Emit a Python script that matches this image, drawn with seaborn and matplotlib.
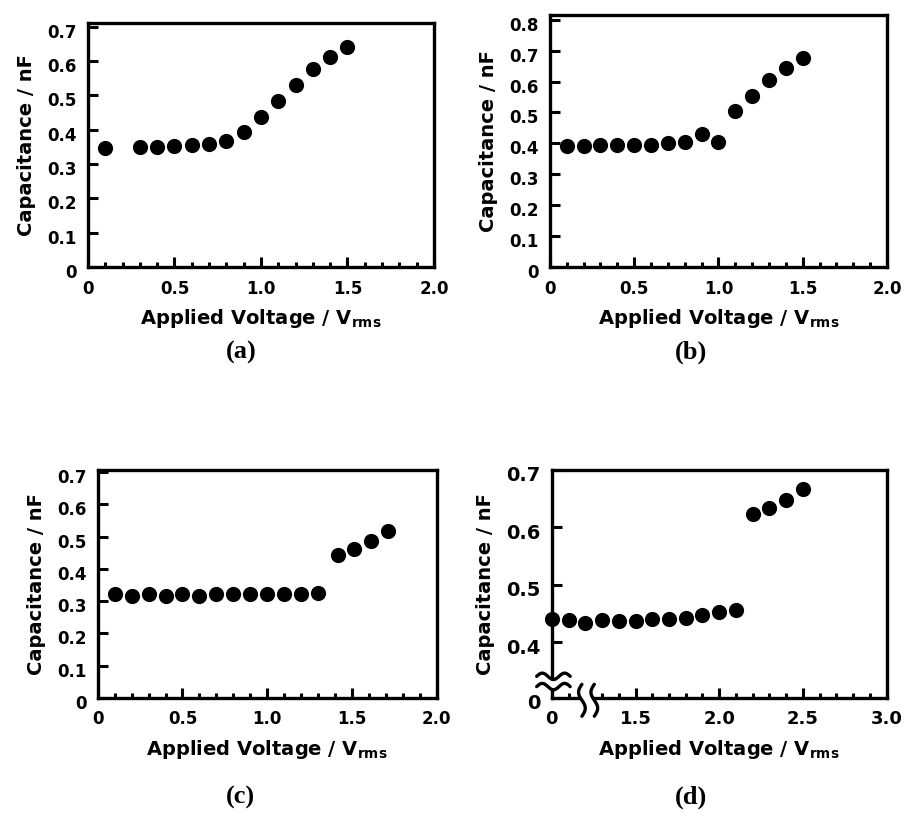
import numpy as np
import seaborn as sns
import pandas as pd
import matplotlib.pyplot as plt
import matplotlib.transforms as mtransforms
from matplotlib.ticker import MultipleLocator

sns.set_style('ticks')
plt.rcParams['font.family'] = ['DejaVu Sans']
plt.rcParams['font.weight'] = 'bold'
plt.rcParams['mathtext.fontset'] = 'custom'
plt.rcParams['mathtext.rm'] = 'DejaVu Sans:bold'
plt.rcParams['mathtext.bf'] = 'DejaVu Sans:bold'
plt.rcParams['text.color'] = 'black'
plt.rcParams['axes.labelcolor'] = 'black'
plt.rcParams['xtick.color'] = 'black'
plt.rcParams['ytick.color'] = 'black'

# (a)
volt_a = [0.1, 0.3, 0.4, 0.5, 0.6, 0.7, 0.8, 0.9, 1.0, 1.1, 1.2, 1.3, 1.4, 1.5]
cap_a = [0.346, 0.349, 0.350, 0.352, 0.356, 0.358, 0.368, 0.392, 0.436, 0.484, 0.530, 0.576, 0.610, 0.641]
# (b)
volt_b = [0.1, 0.2, 0.3, 0.4, 0.5, 0.6, 0.7, 0.8, 0.9, 1.0, 1.1, 1.2, 1.3, 1.4, 1.5]
cap_b = [0.392, 0.390, 0.396, 0.396, 0.396, 0.396, 0.400, 0.405, 0.430, 0.403, 0.505, 0.552, 0.605, 0.645, 0.677]
# (c)
volt_c = [0.1, 0.2, 0.3, 0.4, 0.5, 0.6, 0.7, 0.8, 0.9, 1.0, 1.1, 1.2, 1.3, 1.42, 1.51, 1.61, 1.71]
cap_c = [0.321, 0.317, 0.321, 0.317, 0.321, 0.317, 0.321, 0.321, 0.321, 0.321, 0.321, 0.321, 0.325,
         0.442, 0.461, 0.487, 0.518]
# (d) broken axes: x position 1.0 is labelled "0", y position 0.303 is labelled "0"
volt_d = [1.0, 1.1, 1.2, 1.3, 1.4, 1.5, 1.6, 1.7, 1.8, 1.9, 2.0, 2.1, 2.2, 2.3, 2.4, 2.5]
cap_d = [0.441, 0.438, 0.433, 0.439, 0.437, 0.437, 0.440, 0.440, 0.442, 0.448, 0.452, 0.457,
         0.624, 0.634, 0.648, 0.667]

xlab = 'Applied Voltage / V$_{\\mathrm{rms}}$'
ylab = 'Capacitance / nF'

fig = plt.figure(figsize=(9.09, 8.27), dpi=100)

boxes = {
    'a': [0.0968, 0.6771, 0.3806, 0.2950],
    'b': [0.6050, 0.6771, 0.3707, 0.3047],
    'c': [0.1075, 0.1560, 0.3730, 0.2757],
    'd': [0.6070, 0.1560, 0.3685, 0.2757],
}
datasets = {
    'a': (volt_a, cap_a),
    'b': (volt_b, cap_b),
    'c': (volt_c, cap_c),
    'd': (volt_d, cap_d),
}


def style_axes(ax):
    for s in ax.spines.values():
        s.set_linewidth(2.4)
        s.set_color('black')
    ax.tick_params(axis='both', which='both', direction='in', width=2.2, color='black',
                   labelcolor='black', labelsize=12, top=False, right=False)
    ax.tick_params(axis='y', which='major', length=7, pad=8)
    ax.tick_params(axis='x', which='major', length=7, pad=9)
    ax.tick_params(axis='x', which='minor', length=3.5)
    ax.set_xlabel(xlab, fontsize=14, fontweight='bold', labelpad=7, color='black')
    ax.set_ylabel(ylab, fontsize=14, fontweight='bold', labelpad=8, color='black')


def shift_ylabels(ax):
    off = mtransforms.ScaledTranslation(0, -4 / 100, fig.dpi_scale_trans)
    for lab in ax.get_yticklabels():
        lab.set_transform(lab.get_transform() + off)


axes = {}
for key in 'abcd':
    ax = fig.add_axes(boxes[key])
    x, y = datasets[key]
    df = pd.DataFrame({'volt': x, 'cap': y})
    sns.scatterplot(data=df, x='volt', y='cap', ax=ax, color='black', s=120,
                    edgecolor='black', linewidth=0, clip_on=False, zorder=3)
    style_axes(ax)
    axes[key] = ax

for key, top in zip('abc', [0.71, 0.815, 0.707]):
    ax = axes[key]
    ax.set_xlim(0, 2.0)
    ax.set_ylim(0, top)
    ax.xaxis.set_minor_locator(MultipleLocator(0.1))
    ax.set_xticks([0, 0.5, 1.0, 1.5, 2.0], ['0', '0.5', '1.0', '1.5', '2.0'])
    yt = np.arange(0, top + 1e-6, 0.1)
    ax.set_yticks(yt, ['0'] + ['%.1f' % v for v in yt[1:]])
    shift_ylabels(ax)

# (d) broken axes
ax = axes['d']
ax.set_xlim(1.0, 3.0)
ax.set_ylim(0.303, 0.7)
ax.xaxis.set_minor_locator(MultipleLocator(0.1))
ax.set_xticks([1.0, 1.5, 2.0, 2.5, 3.0], ['0', '1.5', '2.0', '2.5', '3.0'])
ax.set_yticks([0.303, 0.4, 0.5, 0.6, 0.7], ['0', '0.4', '0.5', '0.6', '0.7'])
ax.tick_params(axis='y', labelsize=14)
ax.tick_params(axis='x', labelsize=13)
shift_ylabels(ax)

# break marks
t = np.linspace(0, 1, 60)
wave = 0.014 * np.sin(2 * np.pi * t * 1.5)
xs = -0.045 + 0.1 * t
ax.fill_between(xs, 0.05 + wave, 0.095 + wave, color='white', transform=ax.transAxes,
                clip_on=False, zorder=5)
for y0 in (0.05, 0.095):
    ax.plot(xs, y0 + wave, color='black', lw=2.4, transform=ax.transAxes, clip_on=False, zorder=6)
ys = -0.08 + 0.14 * t
wave2 = 0.01 * np.sin(2 * np.pi * t * 1.0)
ax.fill_betweenx(ys, 0.09 + wave2, 0.127 + wave2, color='white', transform=ax.transAxes,
                 clip_on=False, zorder=5)
for x0 in (0.09, 0.127):
    ax.plot(x0 + wave2, ys, color='black', lw=2.4, transform=ax.transAxes, clip_on=False, zorder=6)

captions = [('(a)', 0.265, 0.574), ('(b)', 0.760, 0.574), ('(c)', 0.265, 0.036), ('(d)', 0.760, 0.036)]
for txt, cx, cy in captions:
    fig.text(cx, cy, txt, fontsize=19, fontweight='bold', ha='center', va='center',
             family=['Liberation Serif', 'DejaVu Serif'], color='black')

fig.savefig('out.png', dpi=100)
